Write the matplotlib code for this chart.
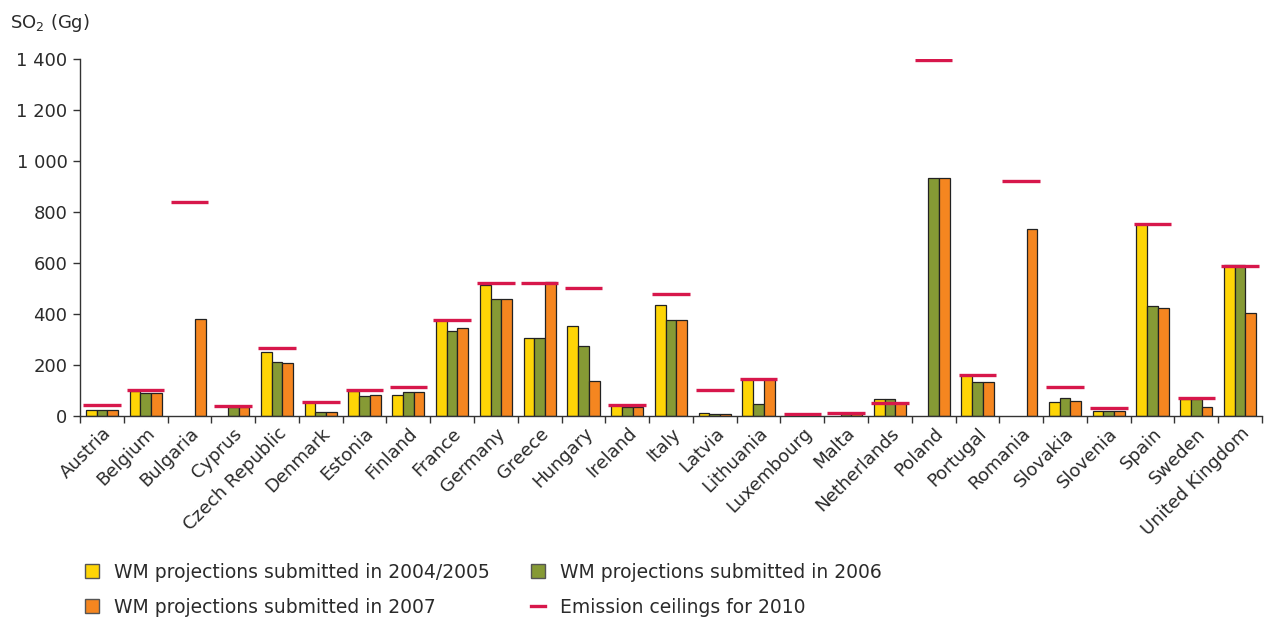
import numpy as np
import matplotlib
matplotlib.use("Agg")
import matplotlib.pyplot as plt
from matplotlib.lines import Line2D
from matplotlib.patches import Patch

# SO2 projections per member state (Gg), nan = no projection submitted
countries = ["Austria", "Belgium", "Bulgaria", "Cyprus", "Czech Republic", "Denmark",
             "Estonia", "Finland", "France", "Germany", "Greece", "Hungary", "Ireland",
             "Italy", "Latvia", "Lithuania", "Luxembourg", "Malta", "Netherlands",
             "Poland", "Portugal", "Romania", "Slovakia", "Slovenia", "Spain", "Sweden",
             "United Kingdom"]
wm_2004_2005 = [25, 100, np.nan, np.nan, 250, 55, 100, 82, 375, 515, 305, 353, 43,
                435, 13, 147, 3, np.nan, 66, np.nan, 161, np.nan, 54, 18, 751, 67, 592]
wm_2006 = [25, 90, np.nan, 35, 212, 17, 78, 95, 333, 459, 305, 274, 37,
           376, 7, 48, 2, 8, 66, 935, 132, np.nan, 72, 18, 430, 67, 592]
wm_2007 = [25, 90, 380, 35, 207, 17, 82, 95, 345, 459, 525, 138, 37,
           376, 7, 147, 2, 8, 52, 935, 132, 733, 60, 18, 422, 37, 405]
ceilings_2010 = [42, 102, 838, 41, 267, 55, 101, 113, 377, 522, 523, 502, 44,
                 477, 103, 146, 6, 13, 51, 1398, 162, 920, 113, 31, 751, 69, 590]

col_yellow = "#FED506"
col_green = "#869A35"
col_orange = "#F58620"
col_red = "#D7174B"
txt = "#2b2b2b"

plt.rcParams["font.family"] = ["DejaVu Sans"]
plt.rcParams["font.size"] = 13

fig = plt.figure(figsize=(12.64, 6.19), dpi=100)
ax = fig.add_axes([80 / 1264, 1 - 416 / 619, 1182 / 1264, 357 / 619])

x = np.arange(len(countries))
w = 0.245
bar_kw = dict(edgecolor="#222222", linewidth=0.9, zorder=2)
ax.bar(x - w, wm_2004_2005, w, color=col_yellow, **bar_kw)
ax.bar(x, wm_2006, w, color=col_green, **bar_kw)
ax.bar(x + w, wm_2007, w, color=col_orange, **bar_kw)
ax.hlines(ceilings_2010, x - 0.43, x + 0.43, colors=col_red, linewidth=2.4, zorder=3)

ax.set_xlim(-0.5, len(countries) - 0.5)
ax.set_ylim(0, 1400)
yt = np.arange(0, 1401, 200)
ax.set_yticks(yt)
ax.set_yticklabels([f"{v:,}".replace(",", " ") for v in yt], color=txt)
ax.set_xticks(x)
ax.set_xticklabels(countries, rotation=45, ha="right", rotation_mode="anchor", color=txt)
ax.tick_params(axis="x", which="major", length=0, pad=6)
ax.set_xticks(np.arange(-0.5, len(countries)), minor=True)
ax.tick_params(axis="x", which="minor", length=5, width=1, direction="out", color="#333333")
ax.tick_params(axis="y", length=5, width=1, color="#333333", pad=4)

for s in ["top", "right"]:
    ax.spines[s].set_visible(False)
for s in ["left", "bottom"]:
    ax.spines[s].set_color("#333333")
    ax.spines[s].set_linewidth(1)

fig.text(10 / 1264, 1 - 23 / 619, "SO$_2$ (Gg)", fontsize=13, color=txt, va="center")

# legend fills column by column, so order gives rows: 2004/2005 | 2006, 2007 | ceilings
handles = [
    Patch(facecolor=col_yellow, edgecolor="#555555", label="WM projections submitted in 2004/2005"),
    Patch(facecolor=col_orange, edgecolor="#555555", label="WM projections submitted in 2007"),
    Patch(facecolor=col_green, edgecolor="#555555", label="WM projections submitted in 2006"),
    Line2D([], [], color=col_red, linewidth=2.4, label="Emission ceilings for 2010"),
]
leg = fig.legend(handles=handles, ncol=2, loc="upper left",
                 bbox_to_anchor=(68 / 1264, 1 - 546 / 619), frameon=False,
                 handlelength=0.75, handleheight=0.75, handletextpad=0.8,
                 columnspacing=2.2, labelspacing=0.85, fontsize=13.5)
for t in leg.get_texts():
    t.set_color(txt)

fig.savefig("out.png", dpi=100)
